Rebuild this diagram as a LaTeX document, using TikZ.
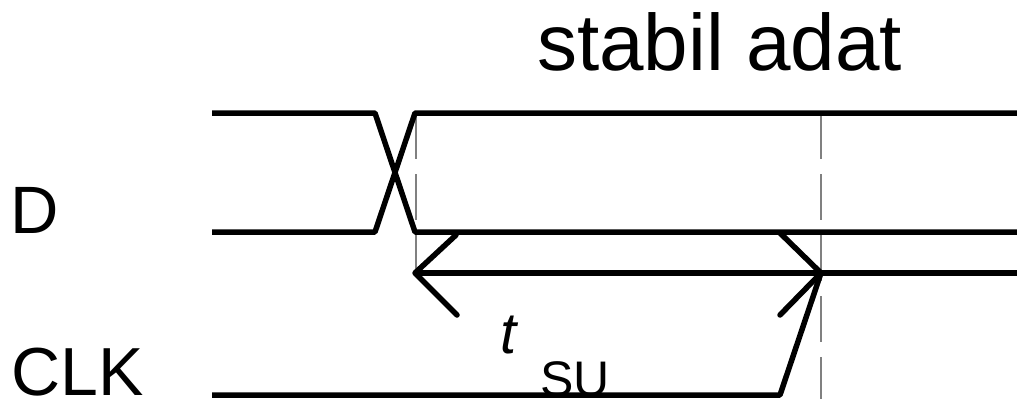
\documentclass[tikz,border=0pt]{standalone}
\usepackage{fontspec}
\setmainfont{Liberation Sans}
\begin{document}
\begin{tikzpicture}[x=1pt,y=-1pt,
  sig/.style={line width=5.5pt,line join=round},
  arr/.style={line width=5.5pt,line cap=round,line join=round},
  guide/.style={gray,line width=1.3pt,dash pattern=on 46pt off 15pt},
  lbl/.style={inner sep=0pt,anchor=base west}]
\useasboundingbox (0,0) rectangle (1017,399);
% labels
\node[lbl,font=\fontsize{80}{80}\selectfont] (title) at (537,70) {stabil adat};
\node[lbl,font=\fontsize{67}{67}\selectfont] (d) at (10,233) {D};
\node[lbl,font=\fontsize{68}{68}\selectfont] (clk) at (11,395) {CLK};
\node[lbl,font=\fontsize{58}{58}\selectfont\itshape] (t) at (500,353) {t};
\node[lbl,font=\fontsize{50}{50}\selectfont] (su) at (540,396) {SU};
% guides
\draw[guide] (416,113) -- (416,273);
\draw[guide] (821,113) -- (821,399);
% D signal
\draw[sig] (212,113) -- (375,113) -- (415,232) -- (1017,232);
\draw[sig] (212,232) -- (375,232) -- (415,113) -- (1017,113);
% setup arrow line
\draw[sig] (415,273) -- (1017,273);
\draw[arr] (456,235) -- (415,273) -- (457,315);
\draw[arr] (780,233) -- (821,273) -- (780,315);
% CLK
\draw[sig] (212,395) -- (780,395) -- (821,273);
\end{tikzpicture}
\end{document}
